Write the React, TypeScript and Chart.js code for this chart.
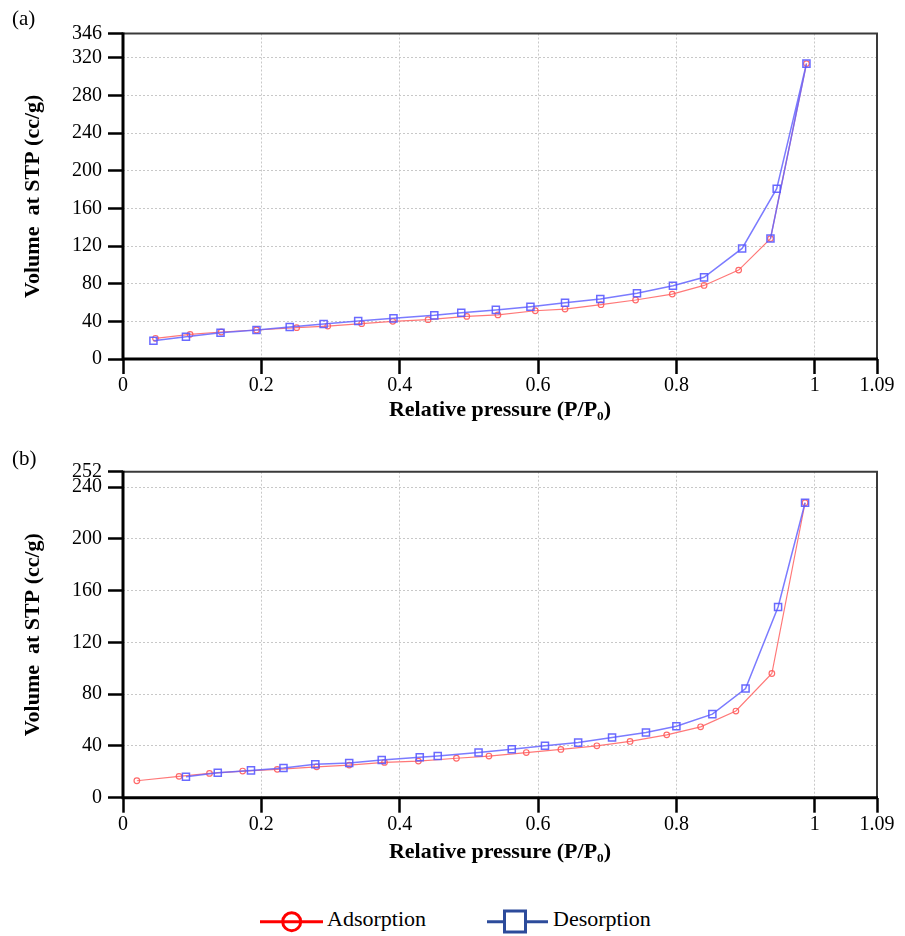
import React, { useEffect, useRef } from "react";
import { Chart, registerables } from "chart.js";

Chart.register(...registerables);

const FONT = "'Liberation Serif', 'Times New Roman', Times, serif";

// Tick values
const xTicks = [0, 0.2, 0.4, 0.6, 0.8, 1, 1.09];
const yTicksA = [0, 40, 80, 120, 160, 200, 240, 280, 320, 346];
const yTicksB = [0, 40, 80, 120, 160, 200, 240, 252];

// (a) Adsorption
const adsAx = [0.047, 0.097, 0.142, 0.193, 0.251, 0.296, 0.345, 0.39, 0.441, 0.497, 0.542, 0.596, 0.639, 0.691, 0.741, 0.794, 0.84, 0.89, 0.936, 0.988];
const adsAy = [22.0, 26.2, 28.7, 30.8, 33.3, 35.0, 37.5, 40.0, 41.8, 45.3, 46.9, 51.3, 53.1, 57.7, 62.7, 69.0, 78.2, 94.5, 128.0, 314];
// (a) Desorption
const desAx = [0.936, 0.988, 0.945, 0.895, 0.84, 0.795, 0.743, 0.69, 0.639, 0.589, 0.539, 0.489, 0.45, 0.391, 0.34, 0.29, 0.241, 0.193, 0.141, 0.091, 0.044];
const desAy = [128.0, 314, 181, 117.5, 86.8, 77.9, 69.8, 63.7, 59.8, 55.6, 52.2, 49.2, 46.4, 43.2, 40.4, 37.2, 34.0, 30.8, 27.9, 23.7, 19.4];

// (b) Adsorption
const adsBx = [0.02, 0.081, 0.125, 0.173, 0.223, 0.28, 0.327, 0.378, 0.427, 0.482, 0.529, 0.583, 0.633, 0.685, 0.733, 0.786, 0.835, 0.886, 0.938, 0.986];
const adsBy = [13.1, 16.5, 18.8, 20.6, 21.9, 23.9, 25.2, 27.3, 28.3, 30.5, 32.2, 34.9, 37.3, 40.1, 43.5, 48.6, 54.8, 67.0, 96.0, 228];
// (b) Desorption
const desBx = [0.986, 0.947, 0.9, 0.852, 0.8, 0.756, 0.707, 0.658, 0.61, 0.562, 0.514, 0.455, 0.429, 0.374, 0.327, 0.278, 0.232, 0.185, 0.137, 0.091];
const desBy = [228, 147.4, 84.4, 64.6, 55.3, 50.4, 46.5, 42.6, 40.1, 37.4, 35.0, 32.2, 31.2, 29.1, 26.8, 25.8, 22.9, 21.1, 19.3, 16.2];

const zip = (xs: number[], ys: number[]) => xs.map((x, i) => ({ x, y: ys[i] }));

const framePlugin = {
  id: "frame",
  afterDraw(chart: any) {
    const { ctx, chartArea } = chart;
    const { left, right, top, bottom } = chartArea;
    ctx.save();
    ctx.setLineDash([]);
    ctx.strokeStyle = "#3a3a3a";
    ctx.lineWidth = 2;
    ctx.beginPath();
    ctx.moveTo(left, top);
    ctx.lineTo(right, top);
    ctx.lineTo(right, bottom);
    ctx.stroke();
    ctx.strokeStyle = "#000";
    ctx.lineWidth = 3;
    ctx.beginPath();
    ctx.moveTo(left, top - 1);
    ctx.lineTo(left, bottom);
    ctx.lineTo(right + 1, bottom);
    ctx.stroke();
    ctx.restore();
  },
};

function makeConfig(
  ads: { x: number; y: number }[],
  des: { x: number; y: number }[],
  yTicks: number[],
  padTop: number,
  xHeight: number,
  titlePadBottom: number
): any {
  const yMax = yTicks[yTicks.length - 1];
  return {
    type: "scatter",
    data: {
      datasets: [
        {
          label: "Desorption",
          data: des,
          showLine: true,
          borderColor: "rgba(100,100,255,0.85)",
          borderWidth: 1.5,
          pointStyle: "rect",
          pointRadius: 5,
          pointBorderWidth: 1.5,
          pointBorderColor: "rgba(90,90,255,0.9)",
          pointBackgroundColor: "rgba(255,255,255,0)",
          order: 0,
        },
        {
          label: "Adsorption",
          data: ads,
          showLine: true,
          borderColor: "rgba(255,105,105,0.9)",
          borderWidth: 1.2,
          pointStyle: "circle",
          pointRadius: 2.8,
          pointBorderWidth: 1.2,
          pointBorderColor: "rgba(255,90,90,0.9)",
          pointBackgroundColor: "rgba(255,255,255,0)",
          order: 1,
        },
      ],
    },
    options: {
      animation: false,
      responsive: false,
      layout: { padding: { left: 0, top: padTop, right: 28, bottom: 0 } },
      plugins: { legend: { display: false }, tooltip: { enabled: false } },
      scales: {
        x: {
          type: "linear",
          min: 0,
          max: 1.09,
          afterBuildTicks: (s: any) => {
            s.ticks = xTicks.map((v) => ({ value: v }));
          },
          afterFit: (s: any) => {
            s.height = xHeight;
          },
          ticks: {
            autoSkip: false,
            maxRotation: 0,
            color: "#000",
            padding: 0,
            font: { size: 20, family: FONT },
            callback: (v: number) => String(v),
          },
          grid: {
            color: "#c8c8c8",
            lineWidth: 1,
            tickColor: "#000",
            tickWidth: 2.5,
            tickLength: 15,
          },
          border: { display: false, dash: [2, 2] },
          title: {
            display: true,
            text: "Relative pressure (P/P\u2080)",
            color: "#000",
            font: { size: 22, weight: "bold", family: FONT },
            padding: { top: 0, bottom: titlePadBottom },
          },
        },
        y: {
          type: "linear",
          min: 0,
          max: yMax,
          afterBuildTicks: (s: any) => {
            s.ticks = yTicks.map((v) => ({ value: v }));
          },
          afterFit: (s: any) => {
            s.width = 123;
          },
          ticks: {
            autoSkip: false,
            color: "#000",
            padding: 6,
            font: { size: 20, family: FONT },
            callback: (v: number) => String(v),
          },
          grid: {
            color: "#c8c8c8",
            lineWidth: 1,
            tickColor: "#000",
            tickWidth: 2.5,
            tickLength: 15,
          },
          border: { display: false, dash: [2, 2] },
          title: {
            display: true,
            text: "Volume  at STP (cc/g)",
            color: "#000",
            font: { size: 22, weight: "bold", family: FONT },
            padding: { top: 20, bottom: 0 },
          },
        },
      },
    },
    plugins: [framePlugin],
  };
}

export default function App() {
  const refA = useRef<HTMLCanvasElement>(null);
  const refB = useRef<HTMLCanvasElement>(null);

  useEffect(() => {
    const chartA = new Chart(
      refA.current as HTMLCanvasElement,
      makeConfig(zip(adsAx, adsAy), zip(desAx, desAy), yTicksA, 33.5, 81, 16.8)
    );
    const chartB = new Chart(
      refB.current as HTMLCanvasElement,
      makeConfig(zip(adsBx, adsBy), zip(desBx, desBy), yTicksB, 31.7, 82.3, 14.8)
    );
    return () => {
      chartA.destroy();
      chartB.destroy();
    };
  }, []);

  const labelStyle: React.CSSProperties = {
    position: "absolute",
    fontFamily: FONT,
    fontSize: 21,
    lineHeight: "21px",
    color: "#000",
    whiteSpace: "nowrap",
  };
  const legendText: React.CSSProperties = {
    position: "absolute",
    fontFamily: FONT,
    fontSize: 22,
    lineHeight: "22px",
    color: "#000",
    whiteSpace: "nowrap",
    top: 907.6,
  };

  return (
    <div
      style={{
        position: "absolute",
        left: 0,
        top: 0,
        width: 905,
        height: 936,
        background: "#fff",
        overflow: "hidden",
      }}
    >
      <canvas
        ref={refA}
        width={905}
        height={440}
        style={{ position: "absolute", left: 0, top: 0, width: 905, height: 440, display: "block" }}
      />
      <canvas
        ref={refB}
        width={905}
        height={440}
        style={{ position: "absolute", left: 0, top: 440, width: 905, height: 440, display: "block" }}
      />
      <div style={{ ...labelStyle, left: 12, top: 8 }}>(a)</div>
      <div style={{ ...labelStyle, left: 12, top: 448 }}>(b)</div>
      <svg
        width={905}
        height={36}
        style={{ position: "absolute", left: 0, top: 900 }}
      >
        <line x1={260} y1={21.7} x2={323} y2={21.7} stroke="#ff0000" strokeWidth={3} />
        <circle cx={291.7} cy={21.7} r={9} stroke="#ff0000" strokeWidth={3} fill="none" />
        <line x1={487} y1={21.7} x2={548} y2={21.7} stroke="#2c4b9b" strokeWidth={3} />
        <rect x={504.5} y={11} width={21} height={21} stroke="#2c4b9b" strokeWidth={3} fill="#fff" />
      </svg>
      <div style={{ ...legendText, left: 327 }}>Adsorption</div>
      <div style={{ ...legendText, left: 553 }}>Desorption</div>
    </div>
  );
}
